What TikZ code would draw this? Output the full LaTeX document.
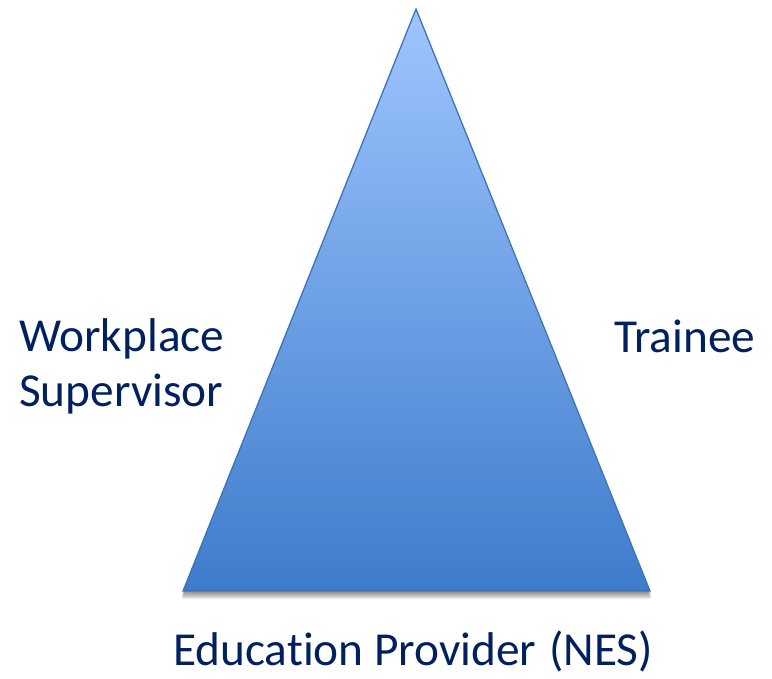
\documentclass[tikz,border=0pt]{standalone}
\usepackage{fontspec}
\setmainfont{Carlito}[Ligatures={NoCommon}]
\definecolor{navy}{HTML}{002060}
\definecolor{toplight}{HTML}{9FC5FF}
\definecolor{botdark}{HTML}{3D7CCB}
\definecolor{edgeblue}{HTML}{3F73B8}
\tikzset{
  lbl/.style={anchor=base west, inner sep=0pt, text=navy, font=\fontsize{47.5}{56}\selectfont},
  shadowcopy/.style={fill=black, fill opacity=0.07, draw=none}
}
\begin{document}
\begin{tikzpicture}[x=1bp,y=-1bp]
\useasboundingbox (0,0) rectangle (772,679);
\coordinate (apex) at (416,9);
\coordinate (bl) at (183,591);
\coordinate (br) at (650,591);
% soft shadow
\foreach \d in {2,3,4,5,6,7,8}{
  \fill[shadowcopy] ([yshift=-\d bp]apex) -- ([xshift=-1bp,yshift=-\d bp]bl) -- ([xshift=1bp,yshift=-\d bp]br) -- cycle;
}
% triangle
\shade[top color=toplight, bottom color=botdark, draw=edgeblue, line width=1.3bp, line join=miter]
  (apex) -- (bl) -- (br) -- cycle;
% labels
\node[lbl] (wp1) at (19,351) {Workplace};
\node[lbl] (wp2) at (19,406) {Supervisor};
\node[lbl] (tr) at (614,352) {Trainee};
\node[lbl] (ed) at (173,665) {Education Provider\hspace{13bp}(NES)};
\end{tikzpicture}
\end{document}
